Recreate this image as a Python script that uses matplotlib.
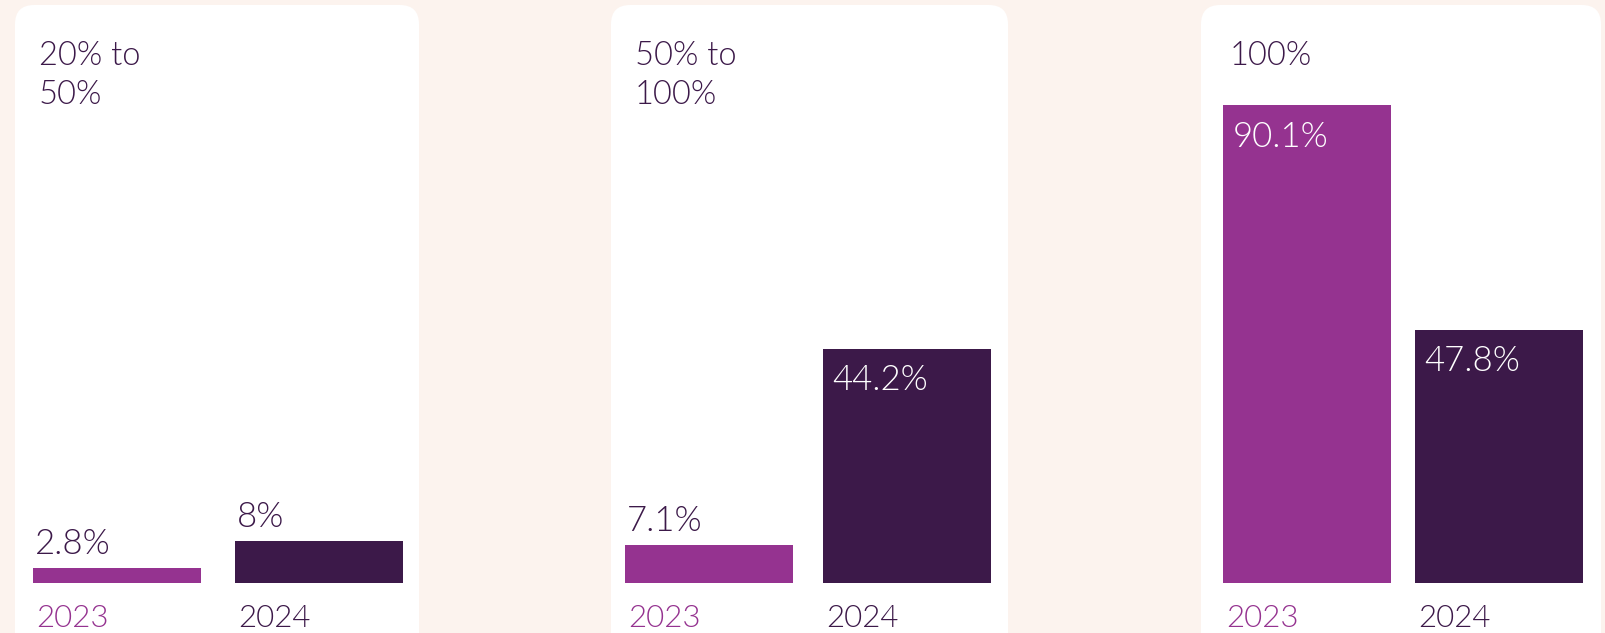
import matplotlib
matplotlib.use("Agg")
import matplotlib.pyplot as plt
from matplotlib.patches import FancyBboxPatch

# Share of respondents by range, 2023 vs 2024
panel_titles = ["20% to\n50%", "50% to\n100%", "100%"]
years = ["2023", "2024"]
values_2023 = [2.8, 7.1, 90.1]
values_2024 = [8.0, 44.2, 47.8]

W, H = 1606, 633
BG = "#FCF3EE"
C23 = "#953390"
C24 = "#3C1949"
TXT = "#3C1949"
FONT = ["Lato", "DejaVu Sans"]
WEIGHT = 300

fig = plt.figure(figsize=(W / 100, H / 100), dpi=100, facecolor=BG)


def fx(px):
    return px / W


def fy(py):
    return 1 - py / H


# card extents (left, right) and first bar left / bar pitch, in pixels
cards = [(15, 419), (611, 1008), (1201, 1601)]
bar_left = [33, 625, 1223]
pitch = [202, 198, 192]
bar_px = 168
base_y = 583
top_y = 53  # pixel row of 100 %
title_x = [39, 635, 1230]

for i in range(3):
    cl, cr = cards[i]
    card = FancyBboxPatch((fx(cl), fy(660)), fx(cr - cl), fy(5) - fy(660),
                          boxstyle="round,pad=0,rounding_size=0.012",
                          transform=fig.transFigure, facecolor="white",
                          edgecolor="none", mutation_aspect=W / H, zorder=-5)
    fig.patches.append(card)

    w = bar_px / pitch[i]
    ax_w = pitch[i] + bar_px
    ax = fig.add_axes([fx(bar_left[i]), fy(base_y), fx(ax_w), fy(top_y) - fy(base_y)])
    ax.set_zorder(2)
    ax.set_facecolor("none")
    ax.set_xlim(-w / 2, 1 + w / 2)
    ax.set_ylim(0, 100)
    ax.axis("off")

    vals = [values_2023[i], values_2024[i]]
    cols = [C23, C24]
    ax.bar([0, 1], vals, width=w, color=cols, edgecolor="none")

    for j, v in enumerate(vals):
        label = f"{v:g}%"
        if v > 20:
            ax.annotate(label, xy=(j - w / 2, v), xytext=(7, -11),
                        textcoords="offset points", ha="left", va="top",
                        fontsize=25, color="white", family=FONT, fontweight=WEIGHT)
        else:
            ax.annotate(label, xy=(j - w / 2, v), xytext=(1.5, 10),
                        textcoords="offset points", ha="left", va="baseline",
                        fontsize=25, color=TXT, family=FONT, fontweight=WEIGHT)
        ax.annotate(years[j], xy=(j - w / 2, 0), xytext=(2.5, -31.5),
                    textcoords="offset points", ha="left", va="baseline",
                    fontsize=22.5, color=cols[j], family=FONT, fontweight=WEIGHT,
                    annotation_clip=False)

    fig.text(fx(title_x[i]), fy(65), panel_titles[i].split("\n")[0],
             ha="left", va="baseline", fontsize=23.5, color=TXT,
             family=FONT, fontweight=WEIGHT)
    if "\n" in panel_titles[i]:
        fig.text(fx(title_x[i]), fy(104), panel_titles[i].split("\n")[1],
                 ha="left", va="baseline", fontsize=23.5, color=TXT,
                 family=FONT, fontweight=WEIGHT)

fig.savefig("out.png", dpi=100, facecolor=BG)
